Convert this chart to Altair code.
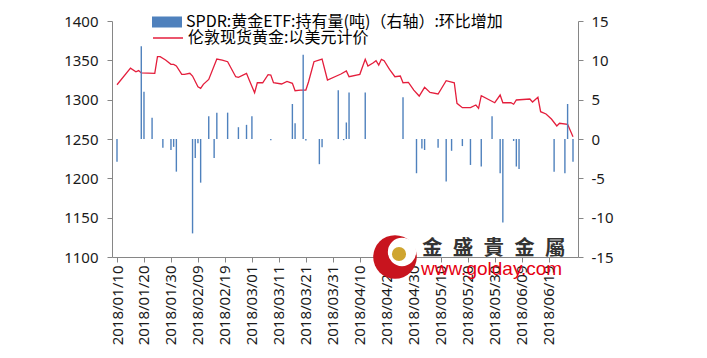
import altair as alt
import pandas as pd

# ---------------- data ----------------
gold_dates = [
    "2018-01-10", "2018-01-15", "2018-01-17", "2018-01-18", "2018-01-19", "2018-01-24",
    "2018-01-25", "2018-01-26", "2018-01-28", "2018-01-30", "2018-01-31", "2018-02-01",
    "2018-02-03", "2018-02-04", "2018-02-06", "2018-02-07", "2018-02-09", "2018-02-10",
    "2018-02-11", "2018-02-13", "2018-02-16", "2018-02-18", "2018-02-20", "2018-02-23",
    "2018-02-24", "2018-02-27", "2018-02-28", "2018-03-02", "2018-03-03", "2018-03-05",
    "2018-03-07", "2018-03-08", "2018-03-09", "2018-03-12", "2018-03-14", "2018-03-16",
    "2018-03-17", "2018-03-19", "2018-03-21", "2018-03-22", "2018-03-24", "2018-03-27",
    "2018-03-29", "2018-04-03", "2018-04-05", "2018-04-06", "2018-04-10", "2018-04-12",
    "2018-04-13", "2018-04-15", "2018-04-16", "2018-04-17", "2018-04-18", "2018-04-19",
    "2018-04-21", "2018-04-23", "2018-04-25", "2018-04-26", "2018-04-28", "2018-04-30",
    "2018-05-02", "2018-05-04", "2018-05-06", "2018-05-09", "2018-05-12", "2018-05-15",
    "2018-05-16", "2018-05-18", "2018-05-21", "2018-05-23", "2018-05-24", "2018-05-25",
    "2018-05-30", "2018-06-01", "2018-06-02", "2018-06-05", "2018-06-06", "2018-06-07",
    "2018-06-12", "2018-06-13", "2018-06-15", "2018-06-16", "2018-06-18", "2018-06-20",
    "2018-06-22", "2018-06-23", "2018-06-26", "2018-06-28",
]
gold_values = [
    1319.0, 1340.0, 1335.5, 1337.0, 1334.0, 1333.5,
    1354.6, 1354.6, 1350.4, 1344.9, 1344.9, 1342.8,
    1332.2, 1332.2, 1333.5, 1330.0, 1316.4, 1314.4,
    1319.5, 1325.8, 1351.7, 1350.4, 1348.2, 1329.2,
    1328.4, 1333.5, 1325.0, 1308.8, 1321.5, 1321.5,
    1331.7, 1331.3, 1321.5, 1319.9, 1323.3, 1320.8,
    1311.4, 1312.2, 1312.2, 1322.8, 1348.2, 1351.6,
    1325.0, 1332.6, 1336.6, 1329.2, 1332.2, 1351.3,
    1342.8, 1347.0, 1349.6, 1344.0, 1351.3, 1349.6,
    1338.6, 1329.2, 1330.0, 1321.5, 1322.0, 1312.2,
    1304.6, 1315.7, 1309.3, 1307.2, 1324.1, 1321.5,
    1295.4, 1289.8, 1289.8, 1293.2, 1289.0, 1305.0,
    1296.1, 1305.9, 1296.1, 1296.1, 1294.2, 1299.6,
    1300.8, 1297.0, 1303.0, 1284.7, 1281.8, 1275.4,
    1266.5, 1270.0, 1268.7, 1253.0,
]

flow_dates = [
    "2018-01-10", "2018-01-19", "2018-01-20", "2018-01-23", "2018-01-27", "2018-01-30",
    "2018-01-31", "2018-02-01", "2018-02-07", "2018-02-08", "2018-02-09", "2018-02-10",
    "2018-02-13", "2018-02-15", "2018-02-16", "2018-02-20", "2018-02-24", "2018-02-27",
    "2018-03-01", "2018-03-08", "2018-03-16", "2018-03-17", "2018-03-20", "2018-03-21",
    "2018-03-26", "2018-03-27", "2018-04-02", "2018-04-04", "2018-04-05", "2018-04-06",
    "2018-04-12", "2018-04-26", "2018-05-01", "2018-05-03", "2018-05-04", "2018-05-09",
    "2018-05-12", "2018-05-14", "2018-05-18", "2018-05-21", "2018-05-25", "2018-05-29",
    "2018-06-01", "2018-06-02", "2018-06-06", "2018-06-07", "2018-06-08", "2018-06-21",
    "2018-06-25", "2018-06-26", "2018-06-28",
]
flow_values = [
    -2.9, 11.8, 6.0, 2.7, -1.1, -1.4,
    -1.0, -4.15, -12.0, -2.4, -0.55, -5.55,
    2.9, -2.4, 3.35, 3.35, 1.5, 1.8,
    2.9, -0.15, 4.45, 2.0, 10.7, -0.2,
    -3.2, -1.05, 6.2, -0.15, 2.1, 5.9,
    5.9, 5.3, -4.35, -1.2, -1.4, -1.1,
    -5.4, -1.5, -0.9, -3.3, -3.5, 2.9,
    -4.35, -10.6, -0.25, -3.5, -3.8, -4.15,
    -4.35, 4.45, -2.9,
]

tick_dates = [
    "2018-01-10", "2018-01-20", "2018-01-30", "2018-02-09", "2018-02-19", "2018-03-01",
    "2018-03-11", "2018-03-21", "2018-03-31", "2018-04-10", "2018-04-20", "2018-04-30",
    "2018-05-10", "2018-05-20", "2018-05-30", "2018-06-09", "2018-06-19",
]
x_domain = ["2018-01-10", "2018-06-28"]
left_ticks = [1100, 1150, 1200, 1250, 1300, 1350, 1400]
right_ticks = [-15, -10, -5, 0, 5, 10, 15]

bar_name = "SPDR:黄金ETF:持有量(吨)（右轴）:环比增加"
line_name = "伦敦现货黄金:以美元计价"

gold_df = pd.DataFrame({"date": gold_dates, "gold": gold_values, "series": line_name})
flow_df = pd.DataFrame({"date": flow_dates, "flow": flow_values, "series": bar_name})


def to_dt(s):
    y, m, d = (int(p) for p in s.split("-"))
    return alt.DateTime(year=y, month=m, date=d, utc=True)


AXIS_GRAY = "#868686"
LABEL_COLOR = "#1a1a1a"
LABEL_FONT = "Noto Sans"
CJK_FONT = "Noto Sans CJK SC"

x_enc = alt.X(
    "date:T",
    scale=alt.Scale(type="utc", domain=[to_dt(s) for s in x_domain]),
    axis=alt.Axis(
        values=[to_dt(s) for s in tick_dates],
        format="%Y/%m/%d",
        labelAngle=-90,
        labelFlush=False,
        labelOverlap=False,
        labelFont=LABEL_FONT,
        labelFontSize=15,
        labelColor=LABEL_COLOR,
        labelPadding=3,
        tickSize=5,
        tickColor=AXIS_GRAY,
        domainColor=AXIS_GRAY,
        grid=False,
        title=None,
    ),
)

line = alt.Chart(gold_df).mark_line(strokeWidth=1.3).encode(
    x=x_enc,
    y=alt.Y(
        "gold:Q",
        scale=alt.Scale(domain=[1100, 1400], nice=False, zero=False),
        axis=alt.Axis(
            orient="left",
            values=left_ticks,
            format="d",
            grid=False,
            tickSize=5,
            tickColor=AXIS_GRAY,
            domainColor=AXIS_GRAY,
            labelFont=LABEL_FONT,
            labelFontSize=15,
            labelColor=LABEL_COLOR,
            labelPadding=9,
            labelFlush=False,
            title=None,
        ),
    ),
    stroke=alt.Stroke(
        "series:N",
        scale=alt.Scale(range=["#E41E3C"]),
        legend=alt.Legend(
            title=None,
            orient="none",
            legendX=40,
            legendY=1,
            symbolType="stroke",
            symbolSize=900,
            symbolStrokeWidth=1.5,
            labelFont=CJK_FONT,
            labelFontSize=16,
            labelColor="#000000",
            labelOffset=4,
            labelLimit=600,
            padding=0,
        ),
    ),
)

bars = alt.Chart(flow_df).mark_bar(size=1.4).encode(
    x=x_enc,
    y=alt.Y(
        "flow:Q",
        scale=alt.Scale(domain=[-15, 15], nice=False),
        axis=alt.Axis(
            orient="right",
            values=right_ticks,
            labelExpr="'' + datum.value",
            grid=False,
            tickSize=5,
            tickColor=AXIS_GRAY,
            domainColor=AXIS_GRAY,
            labelFont=LABEL_FONT,
            labelFontSize=15,
            labelColor=LABEL_COLOR,
            labelAlign="left",
            labelPadding=8,
            labelFlush=False,
            title=None,
        ),
    ),
    color=alt.Color(
        "series:N",
        scale=alt.Scale(range=["#4F81BD"]),
        legend=alt.Legend(
            title=None,
            orient="none",
            legendX=40,
            legendY=-14,
            symbolType="M-1,-0.367H1V0.367H-1Z",
            symbolSize=900,
            symbolStrokeWidth=0,
            symbolOpacity=1,
            labelFont=CJK_FONT,
            labelFontSize=16,
            labelColor="#000000",
            labelOffset=4,
            labelLimit=600,
            padding=0,
        ),
    ),
)

# ---------------- watermark (golday logo) ----------------
one = alt.Data(values=[{}])
logo_red = alt.Chart(one).mark_point(filled=True, shape="circle", opacity=1, color="#C8141E").encode(
    x=alt.value(283), y=alt.value(236), size=alt.value(1900)
)
logo_white = alt.Chart(one).mark_point(filled=True, shape="circle", opacity=1, color="#FFFFFF").encode(
    x=alt.value(290), y=alt.value(231), size=alt.value(800)
)
logo_gold = alt.Chart(one).mark_point(filled=True, shape="circle", opacity=1, color="#CFA530").encode(
    x=alt.value(287), y=alt.value(233), size=alt.value(200)
)
wm_cn = alt.Chart(one).mark_text(
    text="金\u2002盛\u2002貴\u2002金\u2002屬", font="Noto Sans CJK TC", fontSize=20.5,
    fontWeight="bold", color="#333333", align="left", baseline="middle",
).encode(x=alt.value(310), y=alt.value(228))
wm_url = alt.Chart(one).mark_text(
    text="www.golday.com", font="Liberation Sans", fontSize=19, color="#E60012",
    align="left", baseline="alphabetic",
).encode(x=alt.value(309), y=alt.value(254))

chart = (
    alt.layer(line, bars, logo_red, logo_white, logo_gold, wm_cn, wm_url)
    .resolve_scale(y="independent")
    .properties(
        width=466,
        height=236,
        padding={"left": 112, "top": 21, "right": 129, "bottom": 101},
        autosize=alt.AutoSizeParams(type="none"),
        background="#FFFFFF",
    )
    .configure_view(stroke=None)
)

chart.save("out.html", embed_options={"renderer": "svg", "actions": False})
